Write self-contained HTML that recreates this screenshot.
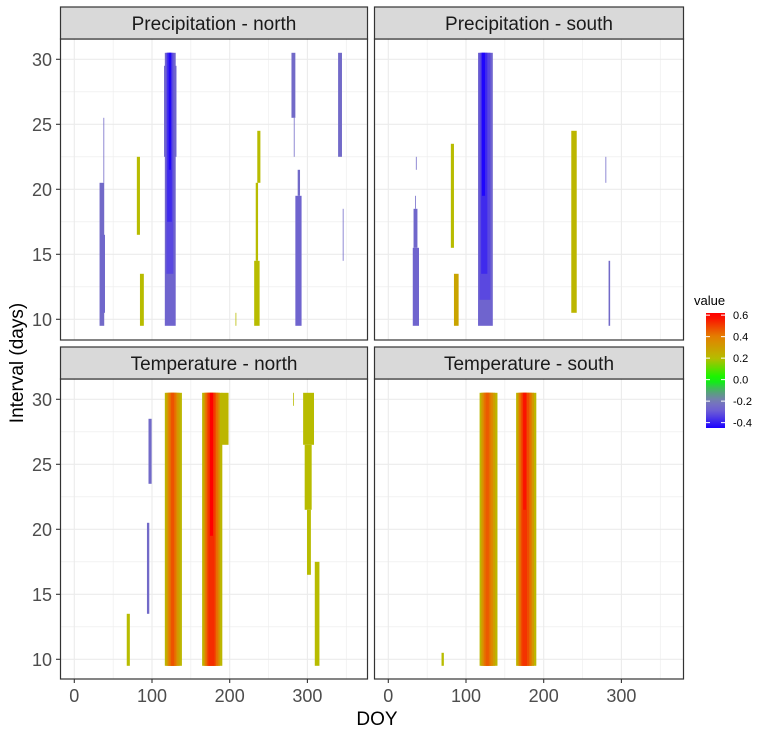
<!DOCTYPE html>
<html><head><meta charset="utf-8"><style>
body{margin:0;background:#fff;}
svg text{font-family:"Liberation Sans",Arial,sans-serif;}
</style></head><body>
<svg id="chart" width="763" height="733" xmlns="http://www.w3.org/2000/svg"></svg>
<script>
// ---- data ----
const panelTitles = ["Precipitation - north","Precipitation - south","Temperature - north","Temperature - south"];
const xTicks = [0,100,200,300];
const yTicks = [10,15,20,25,30];
const legendTicks = [0.6,0.4,0.2,0.0,-0.2,-0.4];
// cells: [doyStart, doyEnd, intervalLow, intervalHigh, value]
const precipNorth = [
 [117,130,10,30,-0.27],[116,131,23,29,-0.27],[119,127,14,30,-0.33],[120,125,18,30,-0.38],[122,124,22,30,-0.44],
 [33,38,10,20,-0.25],[34,39,11,16,-0.26],[38,38,21,25,-0.25],[81,84,17,22,0.2],[85,89,10,13,0.2],
 [208,208,10,10,0.2],[236,239,21,24,0.2],[234,236,15,20,0.2],[232,238,10,14,0.2],
 [285,292,10,19,-0.27],[288,290,20,21,-0.25],[280,284,26,30,-0.25],[283,283,23,25,-0.25],
 [340,344,23,30,-0.25],[346,346,15,18,-0.25]
];
const precipSouth = [
 [116,134,10,30,-0.27],[118,131,12,30,-0.33],[120,127,14,30,-0.38],[121,124,20,30,-0.44],
 [32,39,10,15,-0.27],[33,37,16,18,-0.26],[36,36,22,22,-0.25],[35,35,19,19,-0.25],
 [81,84,16,23,0.2],[85,90,10,13,0.28],
 [236,242,11,24,0.22],[280,280,21,22,-0.25],[284,285,10,14,-0.25]
];
const tempNorth = [
 [117,138,10,30,0.22],[119,135,10,30,0.3],[121,132,10,30,0.38],[123,130,10,30,0.43],[125,128,10,30,0.47],
 [165,190,10,30,0.22],[190,198,27,30,0.22],[167,187,10,30,0.32],[169,185,10,30,0.42],[171,182,10,30,0.48],[173,180,10,30,0.53],[175,178,20,30,0.6],
 [96,99,24,28,-0.25],[94,96,14,20,-0.25],[68,71,10,13,0.2],
 [295,308,27,30,0.2],[297,305,22,26,0.2],[300,304,17,21,0.2],[310,315,10,17,0.2],[282,282,30,30,0.2]
];
const tempSouth = [
 [118,140,10,30,0.22],[120,137,10,30,0.3],[122,134,10,30,0.38],[124,131,10,30,0.43],[126,129,10,30,0.46],
 [165,190,10,30,0.22],[167,187,10,30,0.32],[169,184,10,30,0.42],[171,181,10,30,0.48],[173,178,10,30,0.52],[174,177,22,30,0.57]
,[69,71,10,10,0.2]
];
const panelData = [precipNorth, precipSouth, tempNorth, tempSouth];

// ---- layout ----
const NS="http://www.w3.org/2000/svg";
const svg=document.getElementById('chart');
const panels=[{l:60,r:368,st:7,t:39,b:340},{l:374,r:684,st:7,t:39,b:340},
              {l:60,r:368,st:347,t:379,b:679},{l:374,r:684,st:347,t:379,b:679}];
const pxPerDoy=0.777, pxPerDay=13;
function xScale(p,d){return p.l+14.3+d*pxPerDoy;}
function yScale(p,i){return p.t+20.3+(30-i)*pxPerDay;}
const stops=[[-0.45,[26,0,255]],[-0.3,[106,90,216]],[-0.2,[122,122,184]],[-0.1,[80,170,110]],[0,[0,255,0]],[0.2,[184,188,0]],[0.4,[227,128,0]],[0.6,[255,0,0]]];
function color(v){
 if(v<=stops[0][0])return 'rgb('+stops[0][1]+')';
 for(let k=1;k<stops.length;k++){if(v<=stops[k][0]){const a=stops[k-1],b=stops[k],t=(v-a[0])/(b[0]-a[0]);
  return 'rgb('+a[1].map((c,j)=>Math.round(c+(b[1][j]-c)*t)).join(',')+')';}}
 return 'rgb(255,0,0)';
}
function mk(tag,attrs,parent){const e=document.createElementNS(NS,tag);for(const k in attrs)e.setAttribute(k,attrs[k]);(parent||svg).appendChild(e);return e;}

panels.forEach((p,pi)=>{
 const g=mk('g',{});
 
 
 for(let d=0;d<=350;d+=50){const x=xScale(p,d);
  const ln=mk('line',{x1:x,x2:x,y1:p.t,y2:p.b,stroke:'#ebebeb','stroke-width':d%100===0?1.1:0.55},g);
  }
 for(let i=10;i<=30;i+=2.5){const y=yScale(p,i);
  const ln=mk('line',{x1:p.l,x2:p.r,y1:y,y2:y,stroke:'#ebebeb','stroke-width':i%5===0?1.1:0.55},g);
  }
 panelData[pi].forEach(c=>{
  const x0=xScale(p,c[0]-0.5),x1=xScale(p,c[1]+0.5),y0=yScale(p,c[3]+0.5),y1=yScale(p,c[2]-0.5);
  const r=mk('rect',{x:x0,y:y0,width:x1-x0,height:y1-y0,fill:color(c[4])},g);
  
  
 });
 const bd=mk('rect',{x:p.l+0.5,y:p.t,width:p.r-p.l-1,height:p.b-p.t,fill:'none',stroke:'#333','stroke-width':1.2},g);
 
 const s=mk('rect',{x:p.l+0.5,y:p.st,width:p.r-p.l-1,height:p.t-p.st,fill:'#d9d9d9',stroke:'#333','stroke-width':1.2},g);
 
 const st=mk('text',{x:(p.l+p.r)/2,y:p.st+23,'text-anchor':'middle','font-size':19,fill:'#1a1a1a'},g);
 st.textContent=panelTitles[pi];
 
 if(p.l===60){yTicks.forEach(v=>{const y=yScale(p,v);
  mk('line',{x1:p.l-4,x2:p.l,y1:y,y2:y,stroke:'#333','stroke-width':1.1},g);
  const t=mk('text',{x:p.l-8,y:y+6.5,'text-anchor':'end','font-size':18,fill:'#4d4d4d'},g);
  t.textContent=v;});}
 if(pi>=2){xTicks.forEach(v=>{const x=xScale(p,v);
  mk('line',{x1:x,x2:x,y1:p.b,y2:p.b+4,stroke:'#333','stroke-width':1.1},g);
  const t=mk('text',{x:x,y:p.b+23,'text-anchor':'middle','font-size':18,fill:'#4d4d4d'},g);
  t.textContent=v;});}
});
const xt=mk('text',{x:377,y:725,'text-anchor':'middle','font-size':19,fill:'#000'});
xt.textContent='DOY';
const yt=mk('text',{x:0,y:0,'text-anchor':'middle','font-size':19,fill:'#000',transform:'translate(23,363) rotate(-90)'});
yt.textContent='Interval (days)';
const lg=mk('g',{});

const lt=mk('text',{x:694,y:305,'font-size':13,fill:'#000'},lg);lt.textContent='value';
const defs=mk('defs',{});
const grad=mk('linearGradient',{id:'lgGrad',x1:0,y1:0,x2:0,y2:1},defs);
const lTop=313,lBot=428,vTop=0.62,vBot=-0.45;
function ly(v){return lTop+(vTop-v)/(vTop-vBot)*(lBot-lTop);}
for(let k=0;k<=20;k++){const v=vTop-(vTop-vBot)*k/20;mk('stop',{offset:(k/20),'stop-color':color(v)},grad);}
const bar=mk('rect',{x:706,y:lTop,width:19,height:lBot-lTop,fill:'url(#lgGrad)'},lg);

legendTicks.forEach(v=>{const y=ly(v);
 mk('line',{x1:706,x2:710,y1:y,y2:y,stroke:'#fff','stroke-width':1},lg);
 mk('line',{x1:721,x2:725,y1:y,y2:y,stroke:'#fff','stroke-width':1},lg);
 const t=mk('text',{x:733,y:y+4,'font-size':11,fill:'#000'},lg);t.textContent=v.toFixed(1);
 });
</script>
</body></html>
